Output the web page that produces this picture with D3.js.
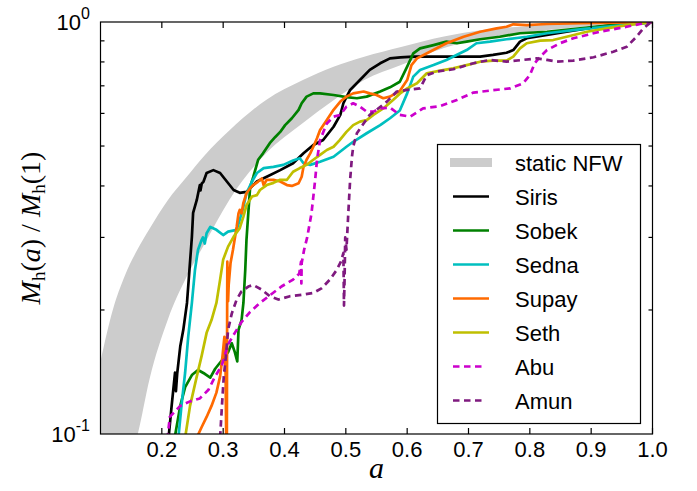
<!DOCTYPE html>
<html>
<head>
<meta charset="utf-8">
<script src="https://cdn.jsdelivr.net/npm/d3@7"></script>
<style>
  body { margin: 0; background: #fff; }
  svg { display: block; font-family: "Liberation Sans", Arial, sans-serif; }
</style>
</head>
<body>
<script>
// static NFW band (a, lower, upper)
const nfwA = [0.10, 0.12, 0.14, 0.16, 0.18, 0.21, 0.24, 0.27, 0.31, 0.37, 0.43, 0.48, 0.53, 0.59, 0.66, 0.72, 0.80, 0.90, 1.0];
const nfwLow = [0.05, 0.065, 0.082, 0.099, 0.136, 0.19, 0.24, 0.29, 0.37, 0.48, 0.569, 0.646, 0.723, 0.786, 0.865, 0.905, 0.945, 0.978, 1.0];
const nfwHigh = [0.15, 0.2, 0.243, 0.28, 0.315, 0.37, 0.42, 0.475, 0.545, 0.647, 0.723, 0.779, 0.824, 0.87, 0.922, 0.955, 0.978, 0.993, 1.0];

// halo mass histories, [a, Mh(a)/Mh(1)]
const siris = [[0.211, 0.098], [0.216, 0.117], [0.2215, 0.141], [0.223, 0.127], [0.225, 0.14], [0.230, 0.163], [0.235, 0.179],
  [0.241, 0.208], [0.245, 0.25], [0.249, 0.301], [0.251, 0.344], [0.257, 0.37], [0.262, 0.402], [0.263, 0.39], [0.265, 0.405],
  [0.268, 0.41], [0.273, 0.43], [0.284, 0.437], [0.295, 0.43], [0.306, 0.41], [0.317, 0.391], [0.327, 0.385], [0.338, 0.387],
  [0.355, 0.41], [0.371, 0.421], [0.393, 0.437], [0.414, 0.454], [0.431, 0.48], [0.447, 0.503], [0.463, 0.517], [0.480, 0.557],
  [0.491, 0.595], [0.496, 0.635], [0.507, 0.684], [0.523, 0.723], [0.539, 0.765], [0.556, 0.794], [0.572, 0.816], [0.589, 0.821],
  [0.610, 0.824], [0.664, 0.824], [0.719, 0.824], [0.740, 0.832], [0.762, 0.842], [0.773, 0.855], [0.784, 0.896], [0.795, 0.913],
  [0.828, 0.930], [0.860, 0.947], [0.893, 0.965], [0.936, 0.983], [0.991, 0.996], [1.0, 1.0]];

const sobek = [[0.221, 0.098], [0.230, 0.117], [0.238, 0.13], [0.249, 0.139], [0.259, 0.143], [0.270, 0.14], [0.279, 0.137],
  [0.287, 0.144], [0.298, 0.151], [0.308, 0.158], [0.314, 0.166], [0.319, 0.158], [0.323, 0.15], [0.325, 0.179], [0.330, 0.189],
  [0.333, 0.208], [0.336, 0.25], [0.338, 0.296], [0.341, 0.344], [0.344, 0.398], [0.349, 0.42], [0.357, 0.463], [0.365, 0.48],
  [0.376, 0.508], [0.385, 0.526], [0.393, 0.541], [0.401, 0.562], [0.412, 0.584], [0.423, 0.612], [0.428, 0.635], [0.436, 0.659],
  [0.447, 0.671], [0.458, 0.671], [0.480, 0.665], [0.501, 0.657], [0.518, 0.653], [0.534, 0.659], [0.556, 0.678], [0.572, 0.694],
  [0.588, 0.716], [0.600, 0.779], [0.610, 0.839], [0.621, 0.863], [0.643, 0.879], [0.664, 0.896], [0.681, 0.888], [0.697, 0.896],
  [0.719, 0.908], [0.751, 0.921], [0.784, 0.939], [0.828, 0.947], [0.882, 0.965], [0.936, 0.983], [0.990, 0.996], [1.0, 1.0]];

const sedna = [[0.227, 0.098], [0.232, 0.117], [0.238, 0.141], [0.243, 0.172], [0.249, 0.208], [0.254, 0.25], [0.259, 0.28],
  [0.265, 0.296], [0.267, 0.30], [0.270, 0.29], [0.273, 0.307], [0.279, 0.318], [0.289, 0.313], [0.300, 0.304], [0.308, 0.31],
  [0.322, 0.313], [0.327, 0.331], [0.333, 0.356], [0.338, 0.384], [0.347, 0.41], [0.355, 0.43], [0.366, 0.442], [0.382, 0.445],
  [0.398, 0.45], [0.414, 0.461], [0.425, 0.467], [0.431, 0.454], [0.442, 0.45], [0.458, 0.458], [0.480, 0.471], [0.501, 0.498],
  [0.512, 0.512], [0.534, 0.537], [0.556, 0.562], [0.572, 0.584], [0.588, 0.61], [0.600, 0.671], [0.610, 0.737], [0.621, 0.765],
  [0.643, 0.786], [0.664, 0.809], [0.697, 0.855], [0.713, 0.888], [0.735, 0.896], [0.762, 0.908], [0.795, 0.921], [0.828, 0.939],
  [0.882, 0.96], [0.936, 0.978], [0.990, 0.995], [1.0, 1.0]];

const supay = [[0.257, 0.098], [0.265, 0.104], [0.273, 0.110], [0.281, 0.117], [0.289, 0.126], [0.295, 0.138], [0.299, 0.155],
  [0.302, 0.172], [0.304, 0.14], [0.305, 0.095], [0.306, 0.095], [0.3065, 0.2], [0.3068, 0.262], [0.308, 0.21], [0.309, 0.23],
  [0.312, 0.26], [0.316, 0.28], [0.322, 0.318], [0.325, 0.343], [0.327, 0.35], [0.330, 0.343], [0.333, 0.364], [0.338, 0.384],
  [0.344, 0.395], [0.349, 0.402], [0.357, 0.41], [0.363, 0.417], [0.366, 0.402], [0.371, 0.414], [0.382, 0.414], [0.393, 0.41],
  [0.404, 0.402], [0.412, 0.4], [0.423, 0.406], [0.428, 0.421], [0.431, 0.445], [0.436, 0.463], [0.442, 0.48], [0.447, 0.498],
  [0.453, 0.522], [0.458, 0.547], [0.469, 0.578], [0.480, 0.612], [0.491, 0.641], [0.501, 0.659], [0.512, 0.671], [0.529, 0.678],
  [0.539, 0.671], [0.550, 0.665], [0.561, 0.653], [0.572, 0.659], [0.588, 0.68], [0.600, 0.723], [0.607, 0.786], [0.616, 0.816],
  [0.637, 0.847], [0.664, 0.888], [0.692, 0.921], [0.719, 0.947], [0.746, 0.965], [0.762, 0.974], [0.773, 0.987], [0.795, 0.983],
  [0.828, 0.989], [0.882, 0.993], [0.936, 0.996], [1.0, 1.0]];

const seth = [[0.238, 0.098], [0.246, 0.117], [0.257, 0.138], [0.265, 0.155], [0.273, 0.176], [0.281, 0.189], [0.289, 0.208],
  [0.295, 0.237], [0.300, 0.265], [0.308, 0.285], [0.317, 0.301], [0.327, 0.316], [0.333, 0.337], [0.338, 0.359], [0.347, 0.377],
  [0.355, 0.38], [0.360, 0.391], [0.371, 0.402], [0.382, 0.407], [0.393, 0.414], [0.404, 0.414], [0.414, 0.433], [0.425, 0.442],
  [0.436, 0.45], [0.447, 0.463], [0.458, 0.476], [0.469, 0.489], [0.480, 0.498], [0.490, 0.517], [0.501, 0.541], [0.512, 0.562],
  [0.523, 0.573], [0.534, 0.578], [0.545, 0.595], [0.561, 0.617], [0.577, 0.647], [0.588, 0.67], [0.600, 0.690], [0.616, 0.710],
  [0.632, 0.751], [0.654, 0.762], [0.675, 0.772], [0.697, 0.786], [0.719, 0.801], [0.740, 0.806], [0.762, 0.806], [0.773, 0.824],
  [0.784, 0.863], [0.795, 0.888], [0.817, 0.901], [0.838, 0.904], [0.860, 0.921], [0.893, 0.947], [0.925, 0.965], [0.958, 0.983],
  [0.990, 0.995], [1.0, 1.0]];

const abu = [[0.209, 0.097], [0.213, 0.11], [0.230, 0.117], [0.246, 0.12], [0.262, 0.122], [0.276, 0.128], [0.287, 0.138],
  [0.298, 0.147], [0.308, 0.165], [0.319, 0.176], [0.330, 0.187], [0.344, 0.198], [0.360, 0.208], [0.376, 0.217], [0.395, 0.228],
  [0.414, 0.237], [0.424, 0.245], [0.427, 0.262], [0.4275, 0.232], [0.428, 0.26], [0.432, 0.28], [0.437, 0.30], [0.444, 0.343],
  [0.450, 0.414], [0.453, 0.463], [0.458, 0.517], [0.469, 0.567], [0.480, 0.589], [0.491, 0.595], [0.501, 0.623], [0.512, 0.635],
  [0.523, 0.623], [0.534, 0.606], [0.545, 0.606], [0.556, 0.617], [0.572, 0.62], [0.588, 0.595], [0.605, 0.589], [0.626, 0.617],
  [0.654, 0.625], [0.681, 0.647], [0.708, 0.674], [0.740, 0.683], [0.768, 0.69], [0.789, 0.71], [0.800, 0.743], [0.808, 0.794],
  [0.817, 0.824], [0.828, 0.855], [0.849, 0.888], [0.871, 0.913], [0.893, 0.93], [0.914, 0.947], [0.936, 0.96], [0.958, 0.974],
  [0.980, 0.989], [1.0, 1.0]];

const amun = [[0.295, 0.098], [0.298, 0.117], [0.301, 0.138], [0.305, 0.157], [0.308, 0.179], [0.314, 0.196], [0.322, 0.212],
  [0.330, 0.222], [0.341, 0.228], [0.349, 0.23], [0.363, 0.224], [0.376, 0.216], [0.390, 0.212], [0.409, 0.216], [0.431, 0.218],
  [0.447, 0.22], [0.461, 0.226], [0.474, 0.237], [0.485, 0.25], [0.492, 0.262], [0.496, 0.275], [0.497, 0.205], [0.498, 0.24],
  [0.499, 0.30], [0.501, 0.28], [0.504, 0.343], [0.507, 0.414], [0.510, 0.471], [0.512, 0.498], [0.518, 0.537], [0.529, 0.567],
  [0.539, 0.595], [0.550, 0.612], [0.567, 0.641], [0.583, 0.678], [0.600, 0.684], [0.621, 0.69], [0.632, 0.743], [0.648, 0.758],
  [0.675, 0.768], [0.708, 0.794], [0.735, 0.809], [0.762, 0.801], [0.789, 0.809], [0.811, 0.816], [0.828, 0.809], [0.844, 0.801],
  [0.871, 0.806], [0.904, 0.821], [0.936, 0.847], [0.958, 0.871], [0.974, 0.921], [0.985, 0.965], [0.996, 0.995], [1.0, 1.0]];

const names = ["Siris", "Sobek", "Sedna", "Supay", "Seth", "Abu", "Amun"];
const colors = ["#000000", "#008000", "#00bfbf", "#ff6a00", "#bfbf00", "#cc00cc", "#7f1a7f"];
const dashed = [false, false, false, false, false, true, true];
const xTicks = [0.2, 0.3, 0.4, 0.5, 0.6, 0.7, 0.8, 0.9, 1.0];
const yMinor = [0.2, 0.3, 0.4, 0.5, 0.6, 0.7, 0.8, 0.9];

var width = 697, height = 491;
var pL = 100.5, pR = 652.5, pT = 22, pB = 434;

var svg = d3.select("body").append("svg").attr("width", width).attr("height", height);

var x = d3.scaleLinear().domain([0.1, 1.0]).range([pL, pR]);
var y = d3.scaleLog().domain([0.1, 1.0]).range([pB, pT]);

svg.append("clipPath").attr("id", "plot")
  .append("rect").attr("x", pL).attr("y", pT).attr("width", pR - pL).attr("height", pB - pT);

var plot = svg.append("g").attr("clip-path", "url(#plot)");

// grey band
var area = d3.area()
  .x((d, i) => x(nfwA[i]))
  .y0((d, i) => y(nfwLow[i]))
  .y1((d, i) => y(nfwHigh[i]))
  .curve(d3.curveMonotoneX);
plot.append("path").datum(nfwA).attr("d", area).attr("fill", "#cccccc");

var line = d3.line().x(d => x(d[0])).y(d => y(d[1]));
var series = [siris, sobek, sedna, supay, seth, abu, amun];

series.forEach((s, i) => {
  plot.append("path")
    .datum(s)
    .attr("d", line)
    .attr("fill", "none")
    .attr("stroke", colors[i])
    .attr("stroke-width", 2.7)
    .attr("stroke-linejoin", "round")
    .attr("stroke-dasharray", dashed[i] ? "6.5,4.5" : null);
});

// frame + ticks
svg.append("rect").attr("x", pL).attr("y", pT).attr("width", pR - pL).attr("height", pB - pT)
  .attr("fill", "none").attr("stroke", "#000").attr("stroke-width", 1.2);

var ticks = svg.append("g").attr("stroke", "#000").attr("stroke-width", 1.2);
xTicks.forEach(t => {
  ticks.append("line").attr("x1", x(t)).attr("x2", x(t)).attr("y1", pB).attr("y2", pB - 6);
  ticks.append("line").attr("x1", x(t)).attr("x2", x(t)).attr("y1", pT).attr("y2", pT + 6);
});
yMinor.forEach(t => {
  ticks.append("line").attr("x1", pL).attr("x2", pL + 4).attr("y1", y(t)).attr("y2", y(t));
  ticks.append("line").attr("x1", pR).attr("x2", pR - 4).attr("y1", y(t)).attr("y2", y(t));
});

svg.append("g").selectAll("text").data(xTicks).enter().append("text")
  .attr("x", d => x(d)).attr("y", pB + 23)
  .attr("text-anchor", "middle").attr("font-size", 22)
  .text(d => d.toFixed(1));

// y tick labels 10^0 and 10^-1
[[1.0, "0"], [0.1, "-1"]].forEach(function (p) {
  var t = svg.append("text").attr("x", 90).attr("y", y(p[0]) + 8)
    .attr("text-anchor", "end").attr("font-size", 22);
  t.append("tspan").text("10");
  t.append("tspan").attr("dy", -11).attr("font-size", 16).text(p[1]);
});

// axis labels
svg.append("text").attr("x", (pL + pR) / 2).attr("y", 478)
  .attr("text-anchor", "middle").attr("font-family", "Liberation Serif, serif")
  .attr("font-style", "italic").attr("font-size", 30).text("a");

var yl = svg.append("text").attr("transform", "translate(40,228) rotate(-90)")
  .attr("text-anchor", "middle").attr("font-family", "Liberation Serif, serif").attr("font-size", 28);
yl.append("tspan").attr("font-style", "italic").text("M");
yl.append("tspan").attr("font-size", 19).attr("dy", 5).text("h");
yl.append("tspan").attr("dy", -5).text("(");
yl.append("tspan").attr("font-style", "italic").text("a");
yl.append("tspan").text(") / ");
yl.append("tspan").attr("font-style", "italic").text("M");
yl.append("tspan").attr("font-size", 19).attr("dy", 5).text("h");
yl.append("tspan").attr("dy", -5).text("(1)");

// legend
var lg = svg.append("g");
lg.append("rect").attr("x", 437.5).attr("y", 144.5).attr("width", 203).attr("height", 279)
  .attr("fill", "#fff").attr("stroke", "#000").attr("stroke-width", 1.2);
var rowY = d3.scaleLinear().domain([0, 7]).range([162.5, 400.5]);
lg.append("line").attr("x1", 450).attr("x2", 492).attr("y1", rowY(0)).attr("y2", rowY(0))
  .attr("stroke", "#cccccc").attr("stroke-width", 9);
lg.append("text").attr("x", 515).attr("y", rowY(0) + 8).attr("font-size", 22).text("static NFW");
names.forEach((n, i) => {
  lg.append("line").attr("x1", 453).attr("x2", dashed[i] ? 486 : 489)
    .attr("y1", rowY(i + 1)).attr("y2", rowY(i + 1))
    .attr("stroke", colors[i]).attr("stroke-width", 2.7)
    .attr("stroke-dasharray", dashed[i] ? "6.5,4.5" : null);
  lg.append("text").attr("x", 515).attr("y", rowY(i + 1) + 8).attr("font-size", 22).text(n);
});
</script>
</body>
</html>
